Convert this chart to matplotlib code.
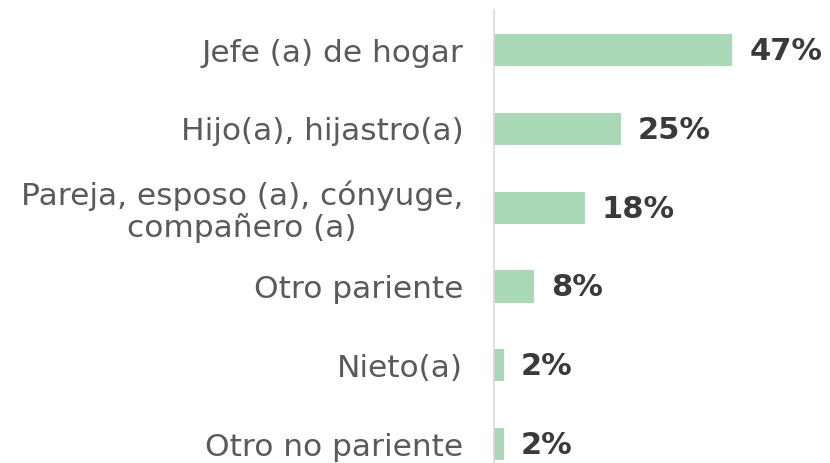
import matplotlib
matplotlib.use('Agg')
import matplotlib.pyplot as plt

categories = ["Jefe (a) de hogar",
              "Hijo(a), hijastro(a)",
              "Pareja, esposo (a), cónyuge,\ncompañero (a)",
              "Otro pariente",
              "Nieto(a)",
              "Otro no pariente"]
values = [47, 25, 18, 8, 2, 2]
value_labels = ["47%", "25%", "18%", "8%", "2%", "2%"]

bar_color = '#a8d8b5'

fig = plt.figure(figsize=(8.3, 4.63), dpi=100)
ax = fig.add_axes([0.595, 0.0, 0.367, 453 / 463])

ypos = list(range(len(categories)))
ax.barh(ypos, values, height=0.41, color=bar_color)

ax.set_xlim(0, 60)
ax.set_ylim(5.24, -0.51)

ax.set_yticks(ypos)
ax.set_yticklabels(categories, fontsize=22.5, color='#5a5a5a', family='DejaVu Sans',
                   multialignment='center', linespacing=1.1)
ax.tick_params(axis='y', length=0, pad=22)
ax.set_xticks([])

for s in ['top', 'right', 'bottom']:
    ax.spines[s].set_visible(False)
ax.spines['left'].set_color('#d9d9d9')
ax.spines['left'].set_linewidth(1.2)

for y, v, lab in zip(ypos, values, value_labels):
    ax.annotate(lab, (v, y), xytext=(12, -1), textcoords='offset points',
                va='center', ha='left', fontsize=22, fontweight='bold', color='#3a3a3a')

fig.savefig('out.png', dpi=100)
